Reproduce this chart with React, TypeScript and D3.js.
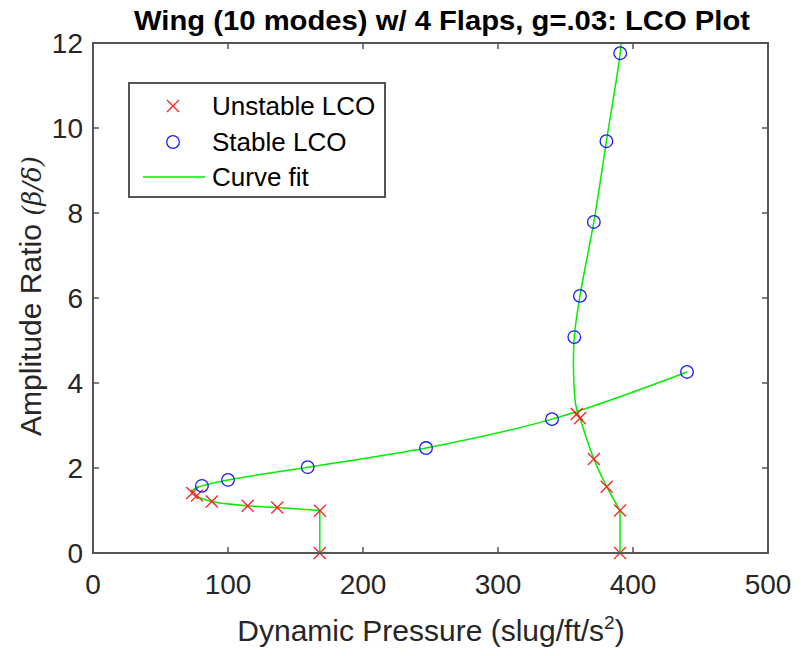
import React from "react";
import * as d3 from "d3";

const unstableQ = [168, 168.1, 136.5, 114.6, 88, 77, 73.5, 358.3, 360.7, 371, 380.5, 390.4, 390.4];
const unstableA = [0, 0.995, 1.07, 1.11, 1.21, 1.35, 1.41, 3.27, 3.17, 2.21, 1.56, 1.0, 0];

const stableQ = [80.7, 100, 159, 246.7, 340, 440, 356.5, 360.7, 371, 380.3, 390.5];
const stableA = [1.58, 1.72, 2.02, 2.47, 3.15, 4.26, 5.08, 6.05, 7.79, 9.69, 11.76];

// curve fit branches (knots)
const fitLeftStemQ = [168, 168];
const fitLeftStemA = [0, 1.0];
const fitLeftQ = [168, 136.5, 114.6, 88, 77, 73, 74.5, 80.7, 100, 159, 246.7, 340, 440];
const fitLeftA = [1.0, 1.07, 1.11, 1.21, 1.33, 1.42, 1.5, 1.58, 1.72, 2.02, 2.47, 3.15, 4.26];
const fitRightStemQ = [390.4, 390.4];
const fitRightStemA = [0, 1.0];
const fitRightQ = [390.4, 380.5, 371, 360.7, 357.5, 356, 356.5, 360.7, 371, 380.3, 390.5, 392];
const fitRightA = [1.0, 1.56, 2.21, 3.17, 3.5, 4.2, 5.08, 6.05, 7.79, 9.69, 11.76, 12.4];

const xTicks = [0, 100, 200, 300, 400, 500];
const yTicks = [0, 2, 4, 6, 8, 10, 12];

const W = 801, H = 656;
const L = 93, R = 768, T = 43, B = 553;
const AX = "#555555";
const FONT = "Liberation Sans, Arial, Helvetica, sans-serif";

export default function App() {
  const x = d3.scaleLinear().domain([0, 500]).range([L, R]);
  const y = d3.scaleLinear().domain([0, 12]).range([B, T]);
  const zip = (q: number[], a: number[]) => q.map((v, i) => [v, a[i]] as [number, number]);
  const lineLin = d3.line<[number, number]>().x(d => x(d[0])).y(d => y(d[1]));
  const lineCurve = d3.line<[number, number]>().x(d => x(d[0])).y(d => y(d[1])).curve(d3.curveCatmullRom.alpha(0.5));
  const green = "#00ee00";
  const cs = 6;
  const cross = (cx: number, cy: number, k: string) => (
    <path key={k} d={`M${cx - cs},${cy - cs}L${cx + cs},${cy + cs}M${cx - cs},${cy + cs}L${cx + cs},${cy - cs}`} stroke="#ff2020" strokeWidth={1.3} fill="none" />
  );
  return (
    <svg width={W} height={H} style={{ position: "absolute", left: 0, top: 0, background: "#fff" }} fontFamily={FONT}>
      <rect x={0} y={0} width={W} height={H} fill="#fff" />
      <defs>
        <clipPath id="plot"><rect x={L} y={T} width={R - L} height={B - T} /></clipPath>
      </defs>
      <g clipPath="url(#plot)">
        <path d={lineLin(zip(fitLeftStemQ, fitLeftStemA)) || ""} stroke={green} strokeWidth={1.5} fill="none" />
        <path d={lineCurve(zip(fitLeftQ, fitLeftA)) || ""} stroke={green} strokeWidth={1.5} fill="none" />
        <path d={lineLin(zip(fitRightStemQ, fitRightStemA)) || ""} stroke={green} strokeWidth={1.5} fill="none" />
        <path d={lineCurve(zip(fitRightQ, fitRightA)) || ""} stroke={green} strokeWidth={1.5} fill="none" />
      </g>
      {unstableQ.map((q, i) => cross(x(q), y(unstableA[i]), "u" + i))}
      {stableQ.map((q, i) => (
        <circle key={"s" + i} cx={x(q)} cy={y(stableA[i])} r={6.3} fill="none" stroke="#1a1aff" strokeWidth={1.3} />
      ))}
      {/* axes box */}
      <rect x={L} y={T} width={R - L} height={B - T} fill="none" stroke={AX} strokeWidth={2} />
      {xTicks.map(t => (
        <g key={"xt" + t}>
          <line x1={x(t)} x2={x(t)} y1={B} y2={B - 6} stroke={AX} strokeWidth={1.5} />
          <line x1={x(t)} x2={x(t)} y1={T} y2={T + 6} stroke={AX} strokeWidth={1.5} />
          <text x={x(t)} y={B + 41} textAnchor="middle" fontSize={28} fill="#262626">{t}</text>
        </g>
      ))}
      {yTicks.map(t => (
        <g key={"yt" + t}>
          <line x1={L} x2={L + 6} y1={y(t)} y2={y(t)} stroke={AX} strokeWidth={1.5} />
          <line x1={R} x2={R - 6} y1={y(t)} y2={y(t)} stroke={AX} strokeWidth={1.5} />
          <text x={L - 10} y={y(t) + 10} textAnchor="end" fontSize={28} fill="#262626">{t}</text>
        </g>
      ))}
      <text x={442} y={30} textAnchor="middle" fontSize={27} fontWeight="bold" fill="#000" textLength={616} lengthAdjust="spacingAndGlyphs">Wing (10 modes) w/ 4 Flaps, g=.03: LCO Plot</text>
      <text x={431} y={641} textAnchor="middle" fontSize={30} fill="#262626">
        Dynamic Pressure (slug/ft/s<tspan dy={-12} fontSize={19}>2</tspan><tspan dy={12}>)</tspan>
      </text>
      <text transform={`translate(41,${296}) rotate(-90)`} textAnchor="middle" fontSize={30} fill="#262626">
        Amplitude Ratio <tspan fontFamily="DejaVu Serif, serif" fontStyle="italic" fontSize={26}>(β/δ)</tspan>
      </text>
      {/* legend */}
      <rect x={129} y={83} width={256} height={114} fill="#fff" stroke={AX} strokeWidth={2} />
      {cross(173, 106, "lg")}
      <circle cx={173} cy={142} r={6.3} fill="none" stroke="#1a1aff" strokeWidth={1.3} />
      <line x1={143} x2={205} y1={177} y2={177} stroke={green} strokeWidth={1.5} />
      <text x={212} y={115} fontSize={26} fill="#000">Unstable LCO</text>
      <text x={212} y={151} fontSize={26} fill="#000">Stable LCO</text>
      <text x={212} y={186} fontSize={26} fill="#000">Curve fit</text>
    </svg>
  );
}
